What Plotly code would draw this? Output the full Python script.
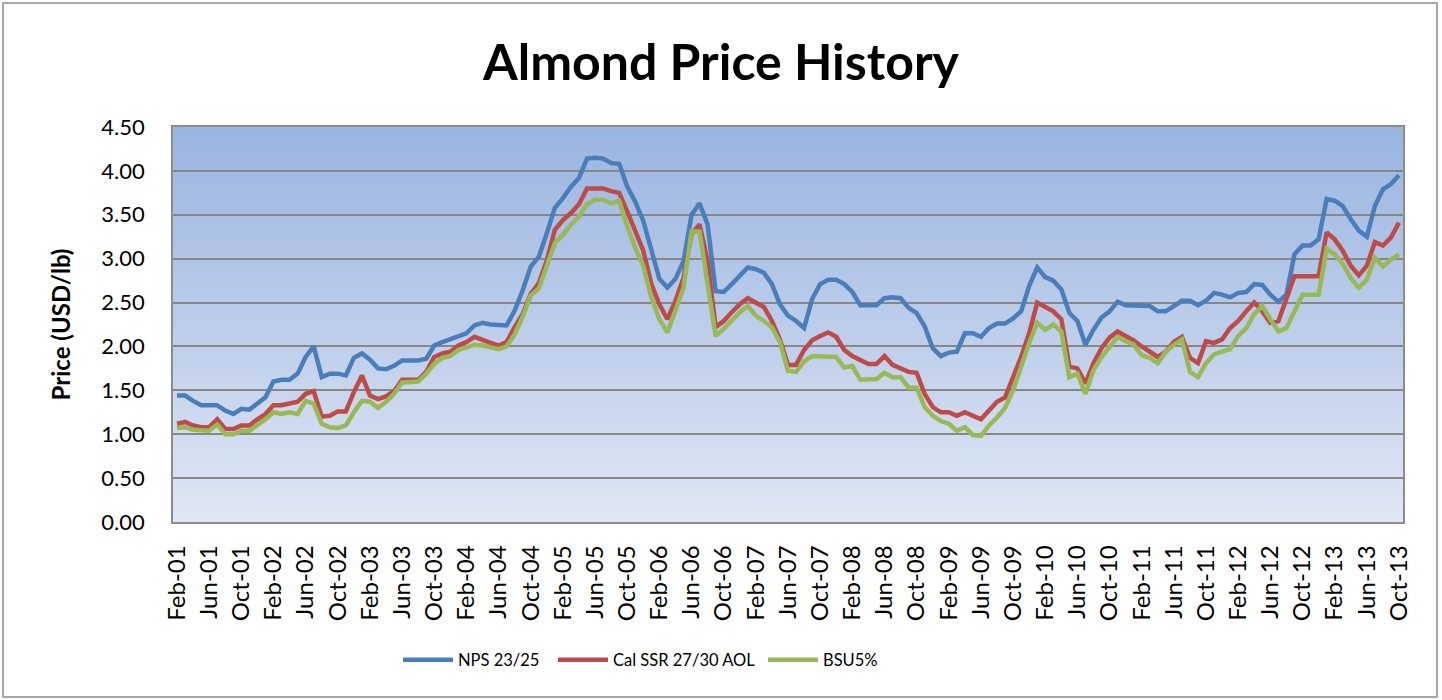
import base64
import plotly.graph_objects as go

MONTHS = ["Jan", "Feb", "Mar", "Apr", "May", "Jun", "Jul", "Aug", "Sep", "Oct", "Nov", "Dec"]
# Monthly categories Feb-01 .. Oct-13
categories = []
for yr in range(1, 14):
    for m in range(12):
        if (yr == 1 and m < 1) or (yr == 13 and m > 9):
            continue
        categories.append(f"{MONTHS[m]}-{yr:02d}")

tick_labels = categories[::4]

nps_23_25 = [
    1.44, 1.44, 1.38, 1.33, 1.33, 1.33, 1.27, 1.23, 1.29, 1.28, 1.35, 1.42, 1.60, 1.62, 1.62, 1.69, 1.88, 2.00, 1.65, 1.69, 1.69, 1.67, 1.87, 1.92, 1.85, 1.75,
    1.74, 1.78, 1.84, 1.84, 1.84, 1.86, 2.01, 2.05, 2.08, 2.11, 2.15, 2.24, 2.27, 2.25, 2.24, 2.24, 2.41, 2.64, 2.91, 3.02, 3.29, 3.58, 3.69, 3.82,
    3.92, 4.14, 4.15, 4.14, 4.09, 4.08, 3.82, 3.65, 3.43, 3.12, 2.77, 2.67, 2.77, 2.97, 3.50, 3.63, 3.39, 2.63, 2.62, 2.71, 2.80, 2.90, 2.88, 2.84, 2.71, 2.48, 2.35,
    2.29, 2.21, 2.54, 2.71, 2.76, 2.76, 2.71, 2.62, 2.47, 2.47, 2.47, 2.55, 2.56, 2.55, 2.44, 2.38, 2.23, 1.98, 1.89, 1.93, 1.94, 2.15, 2.15, 2.11, 2.21, 2.26,
    2.26, 2.32, 2.40, 2.69, 2.90, 2.79, 2.75, 2.65, 2.38, 2.29, 2.02, 2.19, 2.33, 2.40, 2.51, 2.47, 2.47, 2.47, 2.46, 2.40, 2.40, 2.46, 2.52, 2.52, 2.47,
    2.52, 2.61, 2.59, 2.56, 2.61, 2.62, 2.71, 2.70, 2.59, 2.51, 2.59, 3.05, 3.15, 3.15, 3.22, 3.68, 3.66, 3.60, 3.45, 3.32, 3.25, 3.60, 3.79, 3.85, 3.95,
]

cal_ssr_27_30 = [
    1.12, 1.14, 1.10, 1.08, 1.08, 1.17, 1.06, 1.06, 1.10, 1.10, 1.17, 1.23, 1.33, 1.33, 1.35, 1.37, 1.46, 1.49, 1.20, 1.21, 1.26, 1.26, 1.48, 1.67, 1.44, 1.40,
    1.43, 1.49, 1.62, 1.62, 1.62, 1.71, 1.88, 1.92, 1.94, 2.01, 2.05, 2.11, 2.07, 2.04, 2.01, 2.05, 2.22, 2.37, 2.60, 2.72, 2.98, 3.33, 3.44, 3.52,
    3.62, 3.80, 3.80, 3.80, 3.77, 3.75, 3.54, 3.31, 3.09, 2.71, 2.48, 2.31, 2.52, 2.78, 3.28, 3.39, 2.97, 2.22, 2.29, 2.39, 2.48, 2.55, 2.50, 2.45, 2.29, 2.08, 1.79,
    1.79, 1.96, 2.07, 2.12, 2.16, 2.11, 1.96, 1.89, 1.85, 1.80, 1.80, 1.89, 1.79, 1.75, 1.71, 1.70, 1.46, 1.31, 1.25, 1.25, 1.21, 1.25, 1.21, 1.17, 1.27, 1.37,
    1.42, 1.65, 1.88, 2.15, 2.50, 2.45, 2.40, 2.31, 1.77, 1.75, 1.58, 1.81, 1.98, 2.10, 2.17, 2.12, 2.07, 2.00, 1.94, 1.88, 1.94, 2.05, 2.11, 1.87, 1.81,
    2.06, 2.04, 2.08, 2.21, 2.29, 2.40, 2.50, 2.40, 2.27, 2.29, 2.54, 2.80, 2.80, 2.80, 2.80, 3.30, 3.22, 3.09, 2.92, 2.81, 2.92, 3.19, 3.15, 3.24, 3.41,
]

bsu_5 = [
    1.07, 1.08, 1.05, 1.04, 1.04, 1.11, 1.00, 1.00, 1.04, 1.04, 1.10, 1.17, 1.25, 1.23, 1.25, 1.23, 1.38, 1.35, 1.12, 1.08, 1.07, 1.10, 1.25, 1.38, 1.37, 1.30,
    1.37, 1.46, 1.59, 1.60, 1.60, 1.69, 1.80, 1.87, 1.89, 1.96, 1.99, 2.02, 2.01, 1.99, 1.97, 2.00, 2.14, 2.34, 2.58, 2.66, 2.91, 3.18, 3.27, 3.39,
    3.48, 3.62, 3.67, 3.67, 3.63, 3.66, 3.37, 3.12, 2.92, 2.56, 2.31, 2.16, 2.41, 2.67, 3.31, 3.31, 2.71, 2.12, 2.20, 2.29, 2.39, 2.46, 2.35, 2.29, 2.22, 2.05, 1.72,
    1.71, 1.83, 1.89, 1.89, 1.89, 1.88, 1.76, 1.78, 1.62, 1.62, 1.63, 1.70, 1.65, 1.65, 1.53, 1.53, 1.31, 1.21, 1.15, 1.12, 1.04, 1.08, 0.99, 0.98, 1.10, 1.19,
    1.30, 1.50, 1.77, 2.04, 2.27, 2.19, 2.25, 2.17, 1.65, 1.69, 1.46, 1.73, 1.88, 2.00, 2.11, 2.06, 2.02, 1.90, 1.87, 1.81, 1.94, 2.02, 2.08, 1.71, 1.65,
    1.81, 1.91, 1.94, 1.97, 2.12, 2.21, 2.37, 2.46, 2.31, 2.17, 2.21, 2.40, 2.59, 2.59, 2.59, 3.11, 3.05, 2.94, 2.78, 2.67, 2.76, 3.01, 2.91, 2.99, 3.05,
]

series_names = ["NPS 23/25", "Cal SSR 27/30 AOL", "BSU5%"]
series_values = [nps_23_25, cal_ssr_27_30, bsu_5]
series_colors = ["#4A7EBB", "#BE4B48", "#98B954"]
legend_ids = ["legend", "legend2", "legend3"]

y_ticks = [0, 0.5, 1.0, 1.5, 2.0, 2.5, 3.0, 3.5, 4.0, 4.5]

FONT = "Lato, 'Open Sans', sans-serif"

W, H = 1442, 700
L, R, T, B = 173, 39, 127, 178
pw, ph = W - L - R, H - T - B

fig = go.Figure()
for name, vals, col, lg in zip(series_names, series_values, series_colors, legend_ids):
    fig.add_trace(go.Scatter(
        x=categories, y=vals, name=name, mode="lines",
        line=dict(color=col, width=4.5), legend=lg,
    ))

# plot-area gradient background
svg = ('<svg xmlns="http://www.w3.org/2000/svg" width="10" height="100" viewBox="0 0 10 100" '
       'preserveAspectRatio="none"><defs><linearGradient id="g" x1="0" y1="0" x2="0" y2="1">'
       '<stop offset="0" stop-color="#9AB5E1"/><stop offset="0.5" stop-color="#BCCDEA"/>'
       '<stop offset="1" stop-color="#E0E7F4"/></linearGradient></defs>'
       '<rect x="0" y="0" width="10" height="100" fill="url(#g)"/></svg>')
svg_uri = "data:image/svg+xml;base64," + base64.b64encode(svg.encode()).decode()

legend_y = -(660 - (T + ph)) / ph
legend_px = [398, 553, 763]  # screen x where each legend box starts


def legend_style(px):
    return dict(orientation="h", x=(px - L) / pw, xanchor="left", y=legend_y, yanchor="middle",
                font=dict(size=16.5, family=FONT, color="black"),
                bgcolor="rgba(0,0,0,0)", itemwidth=50)


fig.update_layout(
    width=W, height=H,
    margin=dict(l=L, r=R, t=T, b=B),
    paper_bgcolor="white",
    plot_bgcolor="#BCCDEA",
    font=dict(family=FONT, color="black"),
    title=dict(text="<b>Almond Price History</b>", x=0.5, xanchor="center",
               y=1 - 62 / H, yanchor="middle", yref="container",
               font=dict(size=50, family=FONT, color="black")),
    showlegend=True,
    legend=legend_style(legend_px[0]),
    legend2=legend_style(legend_px[1]),
    legend3=legend_style(legend_px[2]),
    images=[dict(source=svg_uri, xref="paper", yref="paper", x=0, y=1, sizex=1, sizey=1,
                 sizing="stretch", layer="below", xanchor="left", yanchor="top")],
    shapes=[dict(type="rect", xref="paper", yref="paper",
                 x0=(3 - L) / pw, x1=(1437 - L) / pw,
                 y0=-(697 - (T + ph)) / ph, y1=(T + ph - 3) / ph,
                 line=dict(color="#8C8C8C", width=1.5), fillcolor="rgba(0,0,0,0)", layer="below")],
)

fig.update_xaxes(
    type="category", categoryorder="array", categoryarray=categories,
    range=[-0.5, len(categories) - 0.5],
    tickmode="array", tickvals=tick_labels, ticktext=tick_labels,
    tickangle=-90, tickfont=dict(size=24, family=FONT, color="black"),
    ticks="outside", ticklen=12, tickcolor="rgba(0,0,0,0)",
    showgrid=False, showline=True, linecolor="#8C8C8C", linewidth=1.5, mirror=True,
    zeroline=False,
)
fig.update_yaxes(
    range=[0, 4.5], tickmode="array", tickvals=y_ticks,
    ticktext=[f"{v:.2f}" for v in y_ticks],
    tickfont=dict(size=22, family=FONT, color="black"),
    ticks="outside", ticklen=22, tickcolor="rgba(0,0,0,0)",
    showgrid=True, gridcolor="#878787", gridwidth=1.5,
    showline=True, linecolor="#8C8C8C", linewidth=1.5, mirror=True,
    zeroline=False,
    title=dict(text="<b>Price (USD/lb)</b>", font=dict(size=24, family=FONT, color="black"),
               standoff=24),
)

fig.write_html(
    "out.html",
    config={"displayModeBar": False},
    post_script="document.body.style.margin='0';document.body.style.overflow='hidden';",
)
